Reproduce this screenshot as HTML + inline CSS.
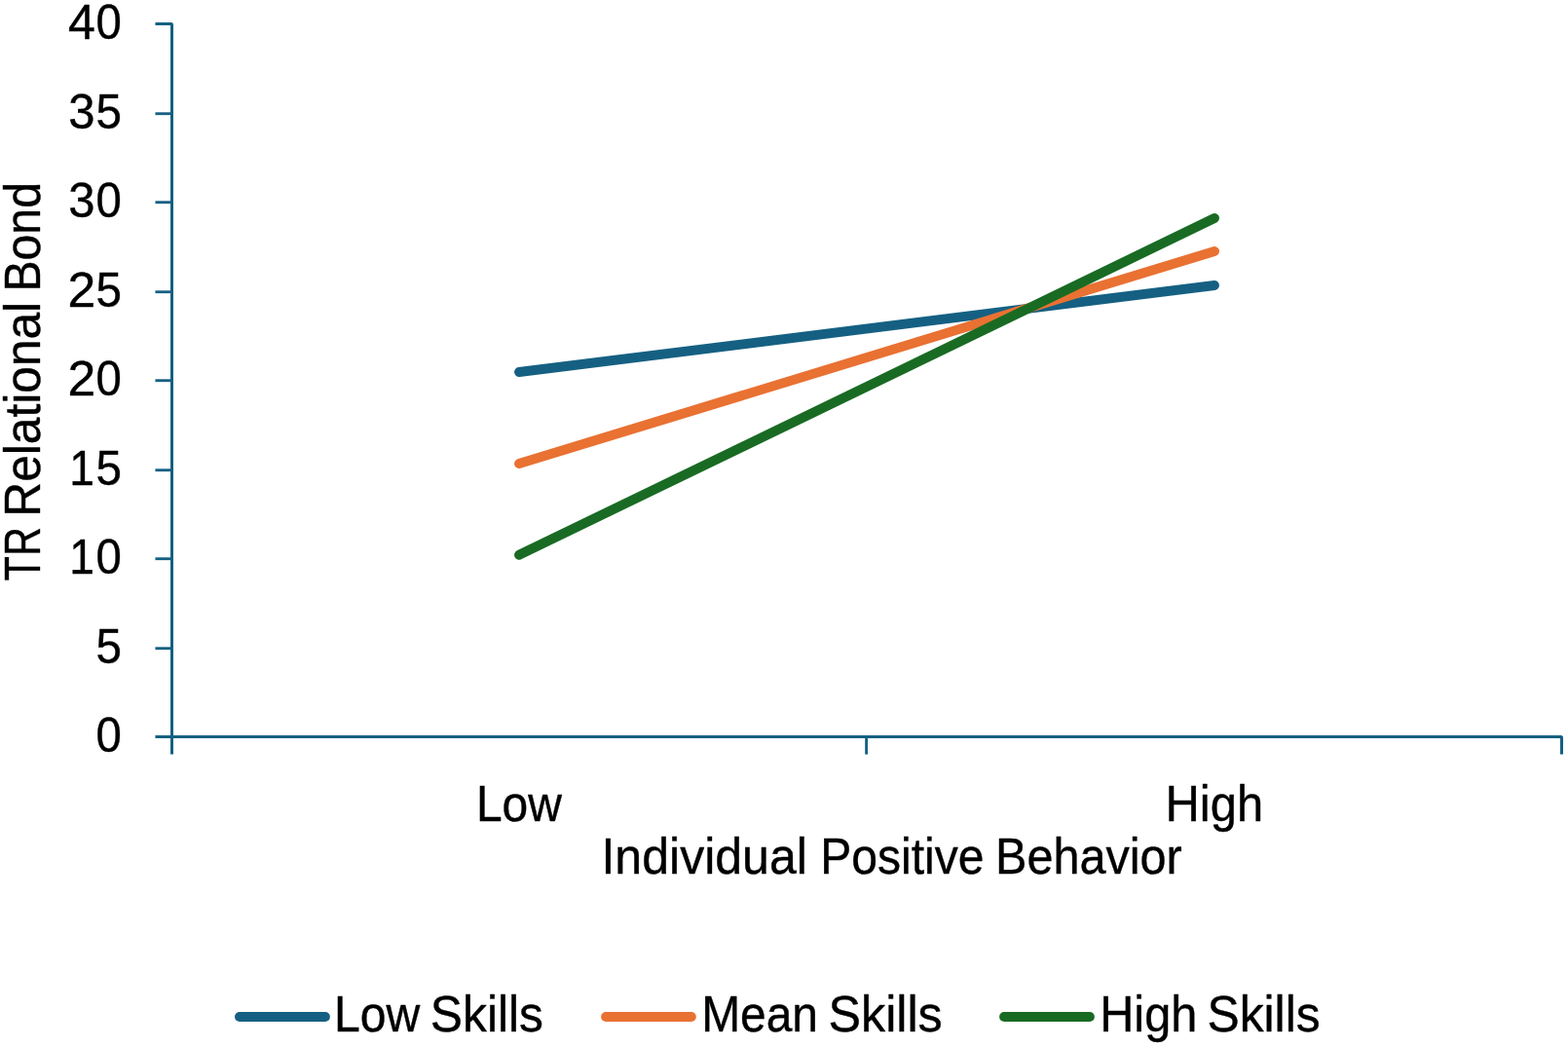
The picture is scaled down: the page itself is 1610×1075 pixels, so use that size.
<!DOCTYPE html>
<html lang="en"><head><meta charset="utf-8"><title>TR Relational Bond by Individual Positive Behavior</title>
<style>html,body{margin:0;padding:0;background:#fff;}body{width:1610px;height:1075px;overflow:hidden;}svg{display:block;}text{font-family:"Liberation Sans",sans-serif;font-size:51.8px;fill:#000;stroke:#000;stroke-width:0.4px;stroke-linejoin:round;}.tk text{font-size:50px;}</style></head><body>
<svg width="1610" height="1075" viewBox="0 0 1610 1075">
<rect x="0" y="0" width="1610" height="1075" fill="#ffffff"/>
<g fill="none" stroke="#156082" stroke-width="3.0" stroke-linejoin="bevel">
<path d="M159.45 24.5H176.5V774.55"/>
<path d="M159.45 756.5H1603.5V774.55"/>
</g>
<g fill="none" stroke="#156082" stroke-width="2.85">
<path d="M159.45 116.720H176.5"/>
<path d="M159.45 207.720H176.5"/>
<path d="M159.45 299.720H176.5"/>
<path d="M159.45 390.720H176.5"/>
<path d="M159.45 482.720H176.5"/>
<path d="M159.45 573.720H176.5"/>
<path d="M159.45 665.720H176.5"/>
<path stroke-width="2.85" d="M889.6 756.5V774.55"/>
</g>
<g fill="none" stroke-width="9.9" stroke-linecap="round">
<path stroke="#156082" d="M533.0 382L1247.0 293"/>
<path stroke="#E97132" d="M533.0 476L1247.0 258"/>
<path stroke="#196B24" d="M533.0 569.8L1247.0 224"/>
<path stroke="#156082" d="M245.95 1044.05H333.95"/>
<path stroke="#E97132" d="M622.05 1044.05H709.85"/>
<path stroke="#196B24" d="M1031.05 1044.05H1118.95"/>
</g>
<g class="tk">
<text y="772"><tspan x="98.51" textLength="26.32" lengthAdjust="spacingAndGlyphs">0</tspan></text>
<text y="681"><tspan x="98.50" textLength="26.46" lengthAdjust="spacingAndGlyphs">5</tspan></text>
<text y="589"><tspan x="71.13" textLength="25.72" lengthAdjust="spacingAndGlyphs">1</tspan><tspan x="98.51" textLength="26.32" lengthAdjust="spacingAndGlyphs">0</tspan></text>
<text y="498"><tspan x="71.13" textLength="25.72" lengthAdjust="spacingAndGlyphs">1</tspan><tspan x="98.50" textLength="26.46" lengthAdjust="spacingAndGlyphs">5</tspan></text>
<text y="406"><tspan x="69.52" textLength="28.73" lengthAdjust="spacingAndGlyphs">2</tspan><tspan x="98.51" textLength="26.32" lengthAdjust="spacingAndGlyphs">0</tspan></text>
<text y="315"><tspan x="69.52" textLength="28.73" lengthAdjust="spacingAndGlyphs">2</tspan><tspan x="98.50" textLength="26.46" lengthAdjust="spacingAndGlyphs">5</tspan></text>
<text y="223"><tspan x="70.26" textLength="27.28" lengthAdjust="spacingAndGlyphs">3</tspan><tspan x="98.51" textLength="26.32" lengthAdjust="spacingAndGlyphs">0</tspan></text>
<text y="132"><tspan x="70.26" textLength="27.28" lengthAdjust="spacingAndGlyphs">3</tspan><tspan x="98.50" textLength="26.46" lengthAdjust="spacingAndGlyphs">5</tspan></text>
<text y="40"><tspan x="69.97" textLength="27.86" lengthAdjust="spacingAndGlyphs">4</tspan><tspan x="98.51" textLength="26.32" lengthAdjust="spacingAndGlyphs">0</tspan></text>
</g>
<text y="843"><tspan x="488.94" textLength="88.02" lengthAdjust="spacingAndGlyphs">Low</tspan></text>
<text y="843"><tspan x="1196.57" textLength="100.49" lengthAdjust="spacingAndGlyphs">High</tspan></text>
<text y="897"><tspan x="617.47" textLength="211.42" lengthAdjust="spacingAndGlyphs">Individual</tspan> <tspan x="842.24" textLength="168.18" lengthAdjust="spacingAndGlyphs">Positive</tspan> <tspan x="1022.10" textLength="191.60" lengthAdjust="spacingAndGlyphs">Behavior</tspan></text>
<text y="1059"><tspan x="343.03" textLength="88.22" lengthAdjust="spacingAndGlyphs">Low</tspan> <tspan x="441.86" textLength="116.13" lengthAdjust="spacingAndGlyphs">Skills</tspan></text>
<text y="1059"><tspan x="720.15" textLength="119.84" lengthAdjust="spacingAndGlyphs">Mean</tspan> <tspan x="850.54" textLength="117.17" lengthAdjust="spacingAndGlyphs">Skills</tspan></text>
<text y="1059"><tspan x="1129.19" textLength="100.06" lengthAdjust="spacingAndGlyphs">High</tspan> <tspan x="1239.46" textLength="116.13" lengthAdjust="spacingAndGlyphs">Skills</tspan></text>
<text y="0" transform="translate(41.1 0) rotate(-90)"><tspan x="-596.43" textLength="55.33" lengthAdjust="spacingAndGlyphs">TR</tspan> <tspan x="-530.70" textLength="220.85" lengthAdjust="spacingAndGlyphs">Relational</tspan> <tspan x="-299.58" textLength="112.56" lengthAdjust="spacingAndGlyphs">Bond</tspan></text>
</svg></body></html>
